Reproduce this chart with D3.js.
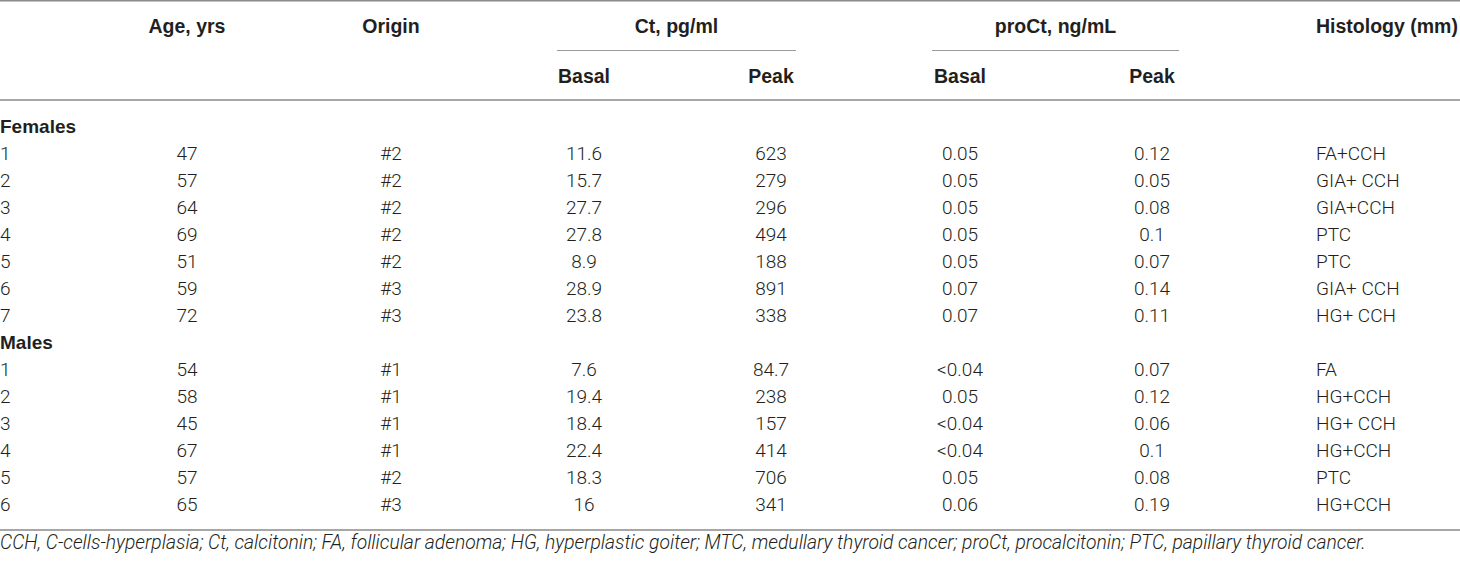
<!DOCTYPE html>
<html>
<head>
<meta charset="utf-8">
<script src="https://cdn.jsdelivr.net/npm/d3@7"></script>
<style>
  html, body { margin: 0; padding: 0; background: #fff; }
  svg { display: block; }
</style>
</head>
<body>
<svg id="chart" width="1460" height="565"></svg>
<script>
// ---- data ----
const groups = ["Females", "Males"];
const groupOf = ["Females","Females","Females","Females","Females","Females","Females","Males","Males","Males","Males","Males","Males"];
const patientNo = ["1","2","3","4","5","6","7","1","2","3","4","5","6"];
const age = ["47","57","64","69","51","59","72","54","58","45","67","57","65"];
const origin = ["#2","#2","#2","#2","#2","#3","#3","#1","#1","#1","#1","#2","#3"];
const ctBasal = ["11.6","15.7","27.7","27.8","8.9","28.9","23.8","7.6","19.4","18.4","22.4","18.3","16"];
const ctPeak = ["623","279","296","494","188","891","338","84.7","238","157","414","706","341"];
const proCtBasal = ["0.05","0.05","0.05","0.05","0.05","0.07","0.07","<0.04","0.05","<0.04","<0.04","0.05","0.06"];
const proCtPeak = ["0.12","0.05","0.08","0.1","0.07","0.14","0.11","0.07","0.12","0.06","0.1","0.08","0.19"];
const histology = ["FA+CCH","GIA+ CCH","GIA+CCH","PTC","PTC","GIA+ CCH","HG+ CCH","FA","HG+CCH","HG+ CCH","HG+CCH","PTC","HG+CCH"];
const topHeaders = ["Age, yrs", "Origin", "Ct, pg/ml", "proCt, ng/mL", "Histology (mm)"];
const subHeaders = ["Basal", "Peak", "Basal", "Peak"];
const footnote = "CCH, C-cells-hyperplasia; Ct, calcitonin; FA, follicular adenoma; HG, hyperplastic goiter; MTC, medullary thyroid cancer; proCt, procalcitonin; PTC, papillary thyroid cancer.";

// ---- layout ----
const W = 1460;
const svg = d3.select("#chart");
const columns = ["no", "age", "origin", "ctBasal", "ctPeak", "proBasal", "proPeak", "hist"];
const x = d3.scaleOrdinal().domain(columns).range([0, 187, 391, 584, 771, 960, 1152, 1316]);
const anchor = d3.scaleOrdinal().domain(columns).range(["start","middle","middle","middle","middle","middle","middle","start"]);
const spanX = d3.scaleOrdinal().domain(["ct","pro"]).range([[557, 796], [932, 1179]]);

// build rows with group header rows
const rows = [];
groups.forEach(g => {
  rows.push({ type: "group", label: g });
  groupOf.forEach((gg, i) => { if (gg === g) rows.push({ type: "data", i }); });
});
const y = d3.scaleLinear().domain([0, rows.length - 1]).range([133, 511]);

const boldFont = "'Liberation Sans', Arial, Helvetica, sans-serif";
const bodyFont = "Roboto, 'Liberation Sans', Arial, sans-serif";
const lineColor = "#8a8a8a";

// rules
svg.append("line").attr("x1", 0).attr("x2", W).attr("y1", 0.75).attr("y2", 0.75)
  .attr("stroke", lineColor).attr("stroke-width", 1.5);
svg.append("line").attr("x1", 0).attr("x2", W).attr("y1", 100).attr("y2", 100)
  .attr("stroke", lineColor).attr("stroke-width", 1.5);
svg.append("line").attr("x1", 0).attr("x2", W).attr("y1", 530).attr("y2", 530)
  .attr("stroke", lineColor).attr("stroke-width", 1.5);
["ct", "pro"].forEach(k => {
  const [a, b] = spanX(k);
  svg.append("line").attr("x1", a).attr("x2", b).attr("y1", 50.5).attr("y2", 50.5)
    .attr("stroke", "#9a9a9a").attr("stroke-width", 1.2);
});

// header text
const hdr = svg.append("g").attr("font-family", boldFont).attr("font-weight", "bold")
  .attr("font-size", "19.5px").attr("fill", "#231f20");
const topPos = [
  { t: topHeaders[0], x: x("age"), a: "middle" },
  { t: topHeaders[1], x: x("origin"), a: "middle" },
  { t: topHeaders[2], x: d3.mean(spanX("ct")), a: "middle" },
  { t: topHeaders[3], x: d3.mean(spanX("pro")), a: "middle" },
  { t: topHeaders[4], x: x("hist"), a: "start" }
];
hdr.selectAll("text.top").data(topPos).join("text").attr("class", "top")
  .attr("x", d => d.x).attr("y", 33).attr("text-anchor", d => d.a).text(d => d.t);
const subCols = ["ctBasal", "ctPeak", "proBasal", "proPeak"];
hdr.selectAll("text.sub").data(subHeaders).join("text").attr("class", "sub")
  .attr("x", (d, i) => x(subCols[i])).attr("y", 83).attr("text-anchor", "middle").text(d => d);

// body
const body = svg.append("g");
rows.forEach((r, ri) => {
  if (r.type === "group") {
    body.append("text").attr("x", 0).attr("y", y(ri))
      .attr("font-family", boldFont).attr("font-weight", "bold").attr("font-size", "19px")
      .attr("fill", "#231f20").text(r.label);
  } else {
    const i = r.i;
    const vals = [patientNo[i], age[i], origin[i], ctBasal[i], ctPeak[i], proCtBasal[i], proCtPeak[i], histology[i]];
    body.selectAll(null).data(vals).enter().append("text")
      .attr("x", (d, k) => x(columns[k]))
      .attr("y", y(ri))
      .attr("text-anchor", (d, k) => anchor(columns[k]))
      .attr("font-family", bodyFont).attr("font-weight", 300).attr("font-size", "19px")
      .attr("fill", "#231f20")
      .text(d => d);
  }
});

// footnote
svg.append("text").attr("x", 0).attr("y", 549)
  .attr("font-family", bodyFont).attr("font-weight", 300).attr("font-style", "italic")
  .attr("font-size", "19.3px").attr("fill", "#231f20").text(footnote);
</script>
</body>
</html>
